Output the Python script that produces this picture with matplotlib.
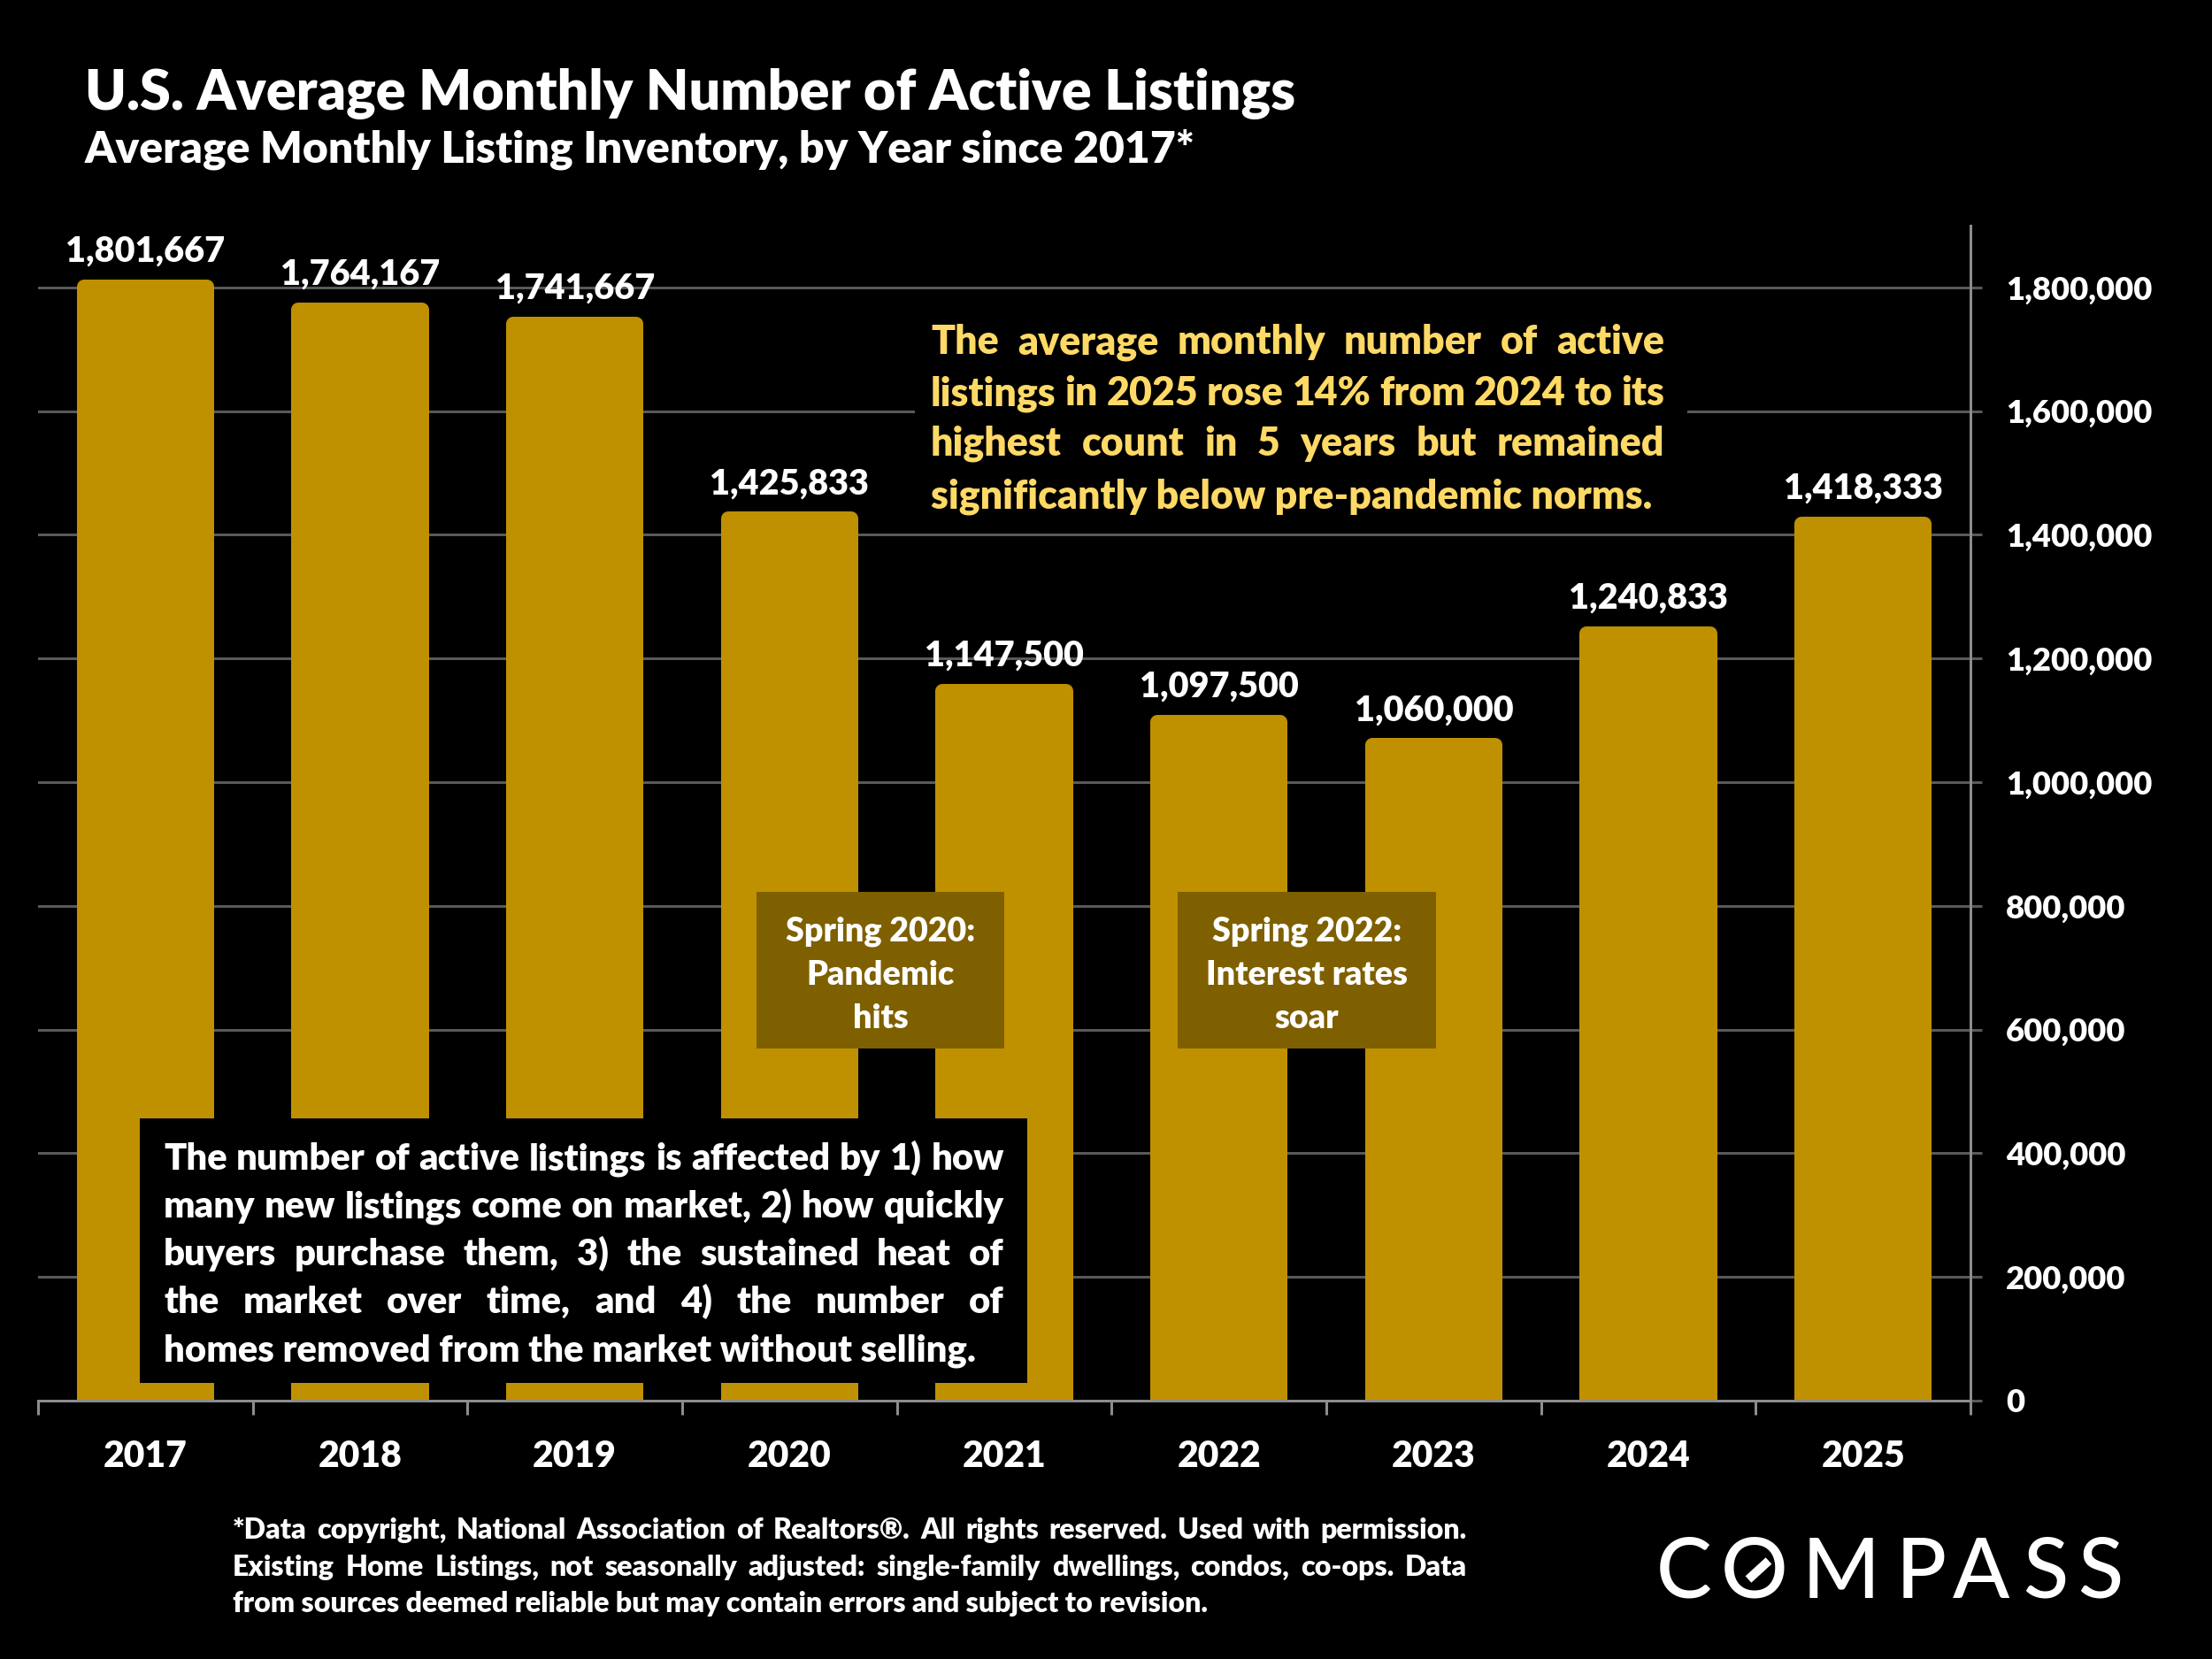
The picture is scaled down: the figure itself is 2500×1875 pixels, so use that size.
import matplotlib
matplotlib.use("Agg")
import matplotlib.pyplot as plt
from matplotlib.patches import Rectangle
from matplotlib.lines import Line2D

# data
years = ["2017", "2018", "2019", "2020", "2021", "2022", "2023", "2024", "2025"]
listings = [1801667, 1764167, 1741667, 1425833, 1147500, 1097500, 1060000, 1240833, 1418333]
y_ticks = [0, 200000, 400000, 600000, 800000, 1000000, 1200000, 1400000, 1600000, 1800000]

title = "U.S. Average Monthly Number of Active Listings"
subtitle = "Average Monthly Listing Inventory, by Year since 2017*"
note_lines = ["The average monthly number of active",
              "listings in 2025 rose 14% from 2024 to its",
              "highest count in 5 years but remained",
              "significantly below pre-pandemic norms."]
box_lines = ["The number of active listings is affected by 1) how",
             "many new listings come on market, 2) how quickly",
             "buyers purchase them, 3) the sustained heat of",
             "the market over time, and 4) the number of",
             "homes removed from the market without selling."]
event_1 = ["Spring 2020:", "Pandemic", "hits"]
event_2 = ["Spring 2022:", "Interest rates", "soar"]
foot_lines = ["*Data copyright, National Association of Realtors\u00ae. All rights reserved. Used with permission.",
              "Existing Home Listings, not seasonally adjusted:  single-family dwellings, condos, co-ops. Data",
              "from sources deemed reliable but may contain errors and subject to revision."]

GOLD = "#BF9000"
BROWN = "#7F6000"
YELLOW = "#FFD966"
BOLD = "heavy"

W, H, DPI = 2500, 1875, 250
PT = 72 / DPI  # points per pixel

plt.rcParams['font.family'] = ['Lato', 'DejaVu Sans']
fig = plt.figure(figsize=(W / DPI, H / DPI), dpi=DPI, facecolor="black")
renderer = fig.canvas.get_renderer()


def fx(x):
    return x / W


def fy(y):
    return 1 - y / H


def text_width(s, size, weight=BOLD):
    t = fig.text(0, 0, s, fontsize=size, fontweight=weight)
    w = t.get_window_extent(renderer).width
    t.remove()
    return w


def fit(s, target, weight=BOLD):
    return 10 * target / text_width(s, 10, weight)


def justified(lines, x0, x1, baselines, size, color):
    for i, (line, yb) in enumerate(zip(lines, baselines)):
        words = line.split()
        if i == len(lines) - 1:
            fig.text(fx(x0), fy(yb), line, fontsize=size, fontweight=BOLD,
                     color=color, ha="left", va="baseline", zorder=5)
            continue
        widths = [text_width(w, size) for w in words]
        gap = (x1 - x0 - sum(widths)) / (len(words) - 1)
        x = x0
        for w, wd in zip(words, widths):
            fig.text(fx(x), fy(yb), w, fontsize=size, fontweight=BOLD,
                     color=color, ha="left", va="baseline", zorder=5)
            x += wd + gap


# axes area
ax_l, ax_r, ax_t, ax_b = 43, 2227, 255, 1583
ax = fig.add_axes([fx(ax_l), fy(ax_b), fx(ax_r - ax_l), (ax_b - ax_t) / H])
ax.set_facecolor("black")

xs = range(len(years))
bar_lw = 16 * PT
bars = ax.bar(xs, listings, width=0.573, color=GOLD, edgecolor=GOLD,
              linewidth=bar_lw, zorder=2)
for b in bars:
    b.set_joinstyle("round")

ax.set_xlim(-0.5, len(years) - 0.5)
ax.set_ylim(0, 1900000)

ax.set_axisbelow(True)
ax.yaxis.grid(True, color="#595959", linewidth=3 * PT)
ax.xaxis.grid(False)

for side in ["left", "top"]:
    ax.spines[side].set_visible(False)
for side in ["right", "bottom"]:
    ax.spines[side].set_color("#8c8c8c")
    ax.spines[side].set_linewidth(3 * PT)

# x ticks at category boundaries
ax.set_xticks([i - 0.5 for i in range(len(years) + 1)])
ax.set_xticklabels([])
ax.tick_params(axis="x", direction="out", length=16 * PT, width=3 * PT, color="#8c8c8c")

# y ticks on the right
ax.yaxis.tick_right()
ax.set_yticks(y_ticks)
ysize = fit("1,800,000", 166)
ax.set_yticklabels([f"{v:,}" for v in y_ticks])
ax.tick_params(axis="y", direction="out", length=13 * PT, width=3 * PT, color="#595959",
               pad=27 * PT, labelsize=ysize, labelcolor="white")
for lbl in ax.get_yticklabels():
    lbl.set_fontweight(BOLD)

# year labels
xsize = fit("2017", 95)
for i, yr in enumerate(years):
    ax.annotate(yr, xy=(i, 0), xycoords=("data", "axes fraction"),
                xytext=(0, -(1658 - ax_b) * PT), textcoords="offset points",
                ha="center", va="baseline", fontsize=xsize, fontweight=BOLD,
                color="white", annotation_clip=False)

# value labels
vsize = fit("1,801,667", 180)
for i, v in enumerate(listings):
    ax.annotate(f"{v:,}", xy=(i, v), xytext=(0, 28 * PT), textcoords="offset points",
                ha="center", va="baseline", fontsize=vsize, fontweight=BOLD,
                color="white", annotation_clip=False)

# titles
fig.text(fx(96), fy(124), title, fontsize=fit(title, 1371), fontweight=BOLD,
         color="white", ha="left", va="baseline")
fig.text(fx(96), fy(183), subtitle, fontsize=fit(subtitle, 1259), fontweight=BOLD,
         color="white", ha="left", va="baseline")

# yellow note on black background
fig.patches.append(Rectangle((fx(1034), fy(598)), fx(1907 - 1034), (598 - 345) / H,
                             transform=fig.transFigure, facecolor="black",
                             edgecolor="none", zorder=3))
nsize = fit(note_lines[-1], 817)
justified(note_lines, 1052, 1881, [400, 458, 515, 574], nsize, YELLOW)

# event boxes
esize = fit("Interest rates", 228)
for lines, (x0, x1) in [(event_1, (855, 1135)), (event_2, (1331, 1623))]:
    fig.patches.append(Rectangle((fx(x0), fy(1185)), fx(x1 - x0), (1185 - 1008) / H,
                                 transform=fig.transFigure, facecolor=BROWN,
                                 edgecolor="none", zorder=3))
    for line, yb in zip(lines, [1063, 1113, 1162]):
        fig.text(fx((x0 + x1) / 2), fy(yb), line, fontsize=esize, fontweight=BOLD,
                 color="white", ha="center", va="baseline", zorder=5)

# black explanation box
fig.patches.append(Rectangle((fx(158), fy(1563)), fx(1161 - 158), (1563 - 1264) / H,
                             transform=fig.transFigure, facecolor="black",
                             edgecolor="none", zorder=3))
bsize = fit(box_lines[-1], 920)
justified(box_lines, 185, 1135, [1322, 1376, 1430, 1484, 1539], bsize, "white")

# footnote
fsize = fit(foot_lines[-1], 1108)
justified(foot_lines, 263, 1658, [1739, 1781, 1822], fsize, "white")

# COMPASS wordmark
logo_size = 68 / 0.72 * PT
for ch, cx in zip("COMPASS", [1903, 1983, 2081, 2171, 2239, 2312, 2374]):
    fig.text(fx(cx), fy(1806), ch, fontsize=logo_size, fontweight="medium",
             color="white", ha="center", va="baseline")
fig.lines.append(Line2D([fx(1976), fx(1999)], [fy(1785), fy(1764)],
                        transform=fig.transFigure, color="white",
                        linewidth=10 * PT, solid_capstyle="butt"))

fig.savefig("out.png", dpi=DPI, facecolor="black")
